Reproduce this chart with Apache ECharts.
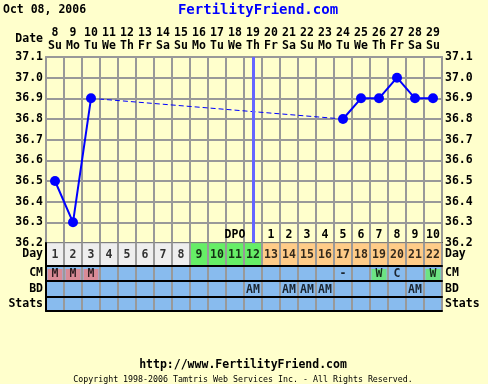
<!DOCTYPE html>
<html>
<head>
<meta charset="utf-8">
<script src="https://cdn.jsdelivr.net/npm/echarts@6/dist/echarts.min.js"></script>
<style>
html,body{margin:0;padding:0;background:#ffffcc;}
#chart{width:488px;height:384px;}
</style>
</head>
<body>
<div id="chart"></div>
<script>
// ---- data ----
const cycleDays = ['1','2','3','4','5','6','7','8','9','10','11','12','13','14','15','16','17','18','19','20','21','22'];
const dates = ['8','9','10','11','12','13','14','15','16','17','18','19','20','21','22','23','24','25','26','27','28','29'];
const weekdays = ['Su','Mo','Tu','We','Th','Fr','Sa','Su','Mo','Tu','We','Th','Fr','Sa','Su','Mo','Tu','We','Th','Fr','Sa','Su'];
const temps = [36.5,36.3,36.9,null,null,null,null,null,null,null,null,null,null,null,null,null,36.8,36.9,36.9,37.0,36.9,36.9];
const gapTemps = [null,null,36.9,null,null,null,null,null,null,null,null,null,null,null,null,null,36.8,null,null,null,null,null];
const dayPhase = ['pre','pre','pre','pre','pre','pre','pre','pre','fertile','fertile','fertile','fertile','post','post','post','post','post','post','post','post','post','post'];
const dpoLabels = ['','','','','','','','','','','DPO','','1','2','3','4','5','6','7','8','9','10'];
const cm = ['M','M','M','','','','','','','','','','','','','','-','','W','C','','W'];
const bd = ['','','','','','','','','','','','AM','','AM','AM','AM','','','','','AM',''];
const stats = ['','','','','','','','','','','','','','','','','','','','','',''];
const ovulationDay = '12';
const tempMin = 36.2, tempMax = 37.1, tempStep = 0.1;
const rowNames = ['Day','CM','BD','Stats'];

// ---- styles ----
const FONT = 'DejaVu Sans Mono';
const phaseColor = {pre:'#eeeeee', fertile:'#66ee66', post:'#ffcc88'};
const cmHighlight = {M:'#ee8080', W:'#66ee66'};
const BLUE_CELL = '#88bbee';
const GRIDC = '#999999';
const NONE = 'rgba(0,0,0,0)';

const rows = [
  {top:243, height:23, fill:i => phaseColor[dayPhase[i]], inset:i => NONE, text:cycleDays},
  {top:266, height:15, fill:i => BLUE_CELL, inset:i => cmHighlight[cm[i]] || NONE, text:cm},
  {top:281, height:16, fill:i => BLUE_CELL, inset:i => NONE, text:bd},
  {top:297, height:14, fill:i => BLUE_CELL, inset:i => NONE, text:stats}
];

const grids = [{left:46, right:46, top:57, height:186}];
const xAxes = [
  {gridIndex:0, type:'category', data:cycleDays, position:'bottom', boundaryGap:true,
   axisLine:{show:true, lineStyle:{color:'#000', width:2}}, axisTick:{show:false},
   splitLine:{show:true, interval:0, lineStyle:{color:GRIDC, width:2}},
   axisLabel:{show:true, inside:true, margin:1, interval:0, color:'#000', fontFamily:FONT, fontWeight:'bold', fontSize:11.5, lineHeight:13,
     formatter:(v,i)=>dpoLabels[i]}},
  {gridIndex:0, type:'category', data:cycleDays, position:'top', boundaryGap:true,
   axisLine:{show:true, lineStyle:{color:GRIDC, width:2}}, axisTick:{show:false}, splitLine:{show:false},
   axisLabel:{show:true, interval:0, margin:4, color:'#000', fontFamily:FONT, fontWeight:'bold', fontSize:11.5, lineHeight:13,
     formatter:(v,i)=>dates[i]+'\n'+weekdays[i]}}
];
const yAxes = [
  {gridIndex:0, type:'value', min:tempMin, max:tempMax, interval:tempStep, position:'left',
   axisLine:{show:true, lineStyle:{color:GRIDC, width:2}}, axisTick:{show:false},
   splitLine:{show:true, lineStyle:{color:GRIDC, width:2}},
   axisLabel:{margin:3, color:'#000', fontFamily:FONT, fontWeight:'bold', fontSize:11.5, formatter:v=>v.toFixed(1)}},
  {gridIndex:0, type:'value', min:tempMin, max:tempMax, interval:tempStep, position:'right',
   axisLine:{show:true, lineStyle:{color:GRIDC, width:2}}, axisTick:{show:false}, splitLine:{show:false},
   axisLabel:{margin:3, color:'#000', fontFamily:FONT, fontWeight:'bold', fontSize:11.5, formatter:v=>v.toFixed(1)}}
];
const series = [
  {type:'line', xAxisIndex:0, yAxisIndex:0, data:gapTemps, connectNulls:true, symbol:'none',
   lineStyle:{color:'#0000ff', width:1, type:[5,3]}, z:3, silent:true, animation:false},
  {type:'line', xAxisIndex:0, yAxisIndex:0, data:temps, connectNulls:false, symbol:'circle', symbolSize:10,
   itemStyle:{color:'#0000ff'}, lineStyle:{color:'#0000ff', width:2}, z:4, silent:true, animation:false,
   markLine:{symbol:'none', silent:true, label:{show:false}, animation:false,
     lineStyle:{color:'#6666ff', width:3, type:'solid'}, data:[{xAxis:ovulationDay}]}}
];

rows.forEach((r, k) => {
  const g = k + 1;
  const xi = xAxes.length;
  const yi = yAxes.length;
  grids.push({left:46, right:46, top:r.top, height:r.height});
  xAxes.push({gridIndex:g, type:'category', data:cycleDays, boundaryGap:true, z:10,
    axisLine:{show:true, lineStyle:{color:'#000', width:2}}, axisTick:{show:false, interval:0}, axisLabel:{show:false, interval:0},
    splitLine:{show:true, interval:0, lineStyle:{color:GRIDC, width:2}}});
  const lab = {margin:3, color:'#000', fontFamily:FONT, fontWeight:'bold', fontSize:11.5};
  yAxes.push({gridIndex:g, type:'category', data:[rowNames[k]], position:'left', z:11,
    axisLine:{show:true, lineStyle:{color:'#000', width:2}}, axisTick:{show:false}, splitLine:{show:false}, axisLabel:lab});
  yAxes.push({gridIndex:g, type:'category', data:[rowNames[k]], position:'right', z:10,
    axisLine:{show:false}, axisTick:{show:false}, splitLine:{show:false}, axisLabel:lab});
  series.push({type:'heatmap', xAxisIndex:xi, yAxisIndex:yi, silent:true, animation:false, z:1,
    data:cycleDays.map((d,i)=>({value:[i,0,1], itemStyle:{color:r.fill(i), borderColor:GRIDC, borderWidth:1}})),
    label:{show:false}, emphasis:{disabled:true}});
  series.push({type:'scatter', xAxisIndex:xi, yAxisIndex:yi, silent:true, animation:false, z:2,
    symbol:'rect', symbolSize:[15,11], symbolOffset:[0,1],
    data:cycleDays.map((d,i)=>({value:[i,0], itemStyle:{color:r.inset(i)}})),
    label:{show:true, position:'inside', offset:[0,0], color:'#000', fontFamily:FONT, fontWeight:'bold', fontSize:11.5,
      formatter:p=>r.text[p.dataIndex]},
    emphasis:{disabled:true}});
});

const chart = echarts.init(document.getElementById('chart'), null, {renderer:'canvas'});
chart.setOption({
  backgroundColor:'#ffffcc',
  animation:false,
  textStyle:{fontFamily:FONT},
  grid:grids, xAxis:xAxes, yAxis:yAxes, series:series,
  graphic:[
    {type:'text', left:3, top:4, style:{text:'Oct 08, 2006', font:'bold 11.5px "'+FONT+'"', fill:'#000'}},
    {type:'text', x:258, y:10, style:{text:'FertilityFriend.com', font:'bold 14px "'+FONT+'"', fill:'#0000ff', align:'center', verticalAlign:'middle'}},
    {type:'text', x:43, y:39, style:{text:'Date', font:'bold 11.5px "'+FONT+'"', fill:'#000', align:'right', verticalAlign:'middle'}},
    {type:'text', x:243, y:365, style:{text:'http://www.FertilityFriend.com', font:'bold 11.5px "'+FONT+'"', fill:'#000', align:'center', verticalAlign:'middle'}},
    {type:'text', x:243, y:380, style:{text:'Copyright 1998-2006 Tamtris Web Services Inc. - All Rights Reserved.', font:'8.3px "'+FONT+'"', fill:'#000', align:'center', verticalAlign:'middle'}}
  ]
});
</script>
</body>
</html>
